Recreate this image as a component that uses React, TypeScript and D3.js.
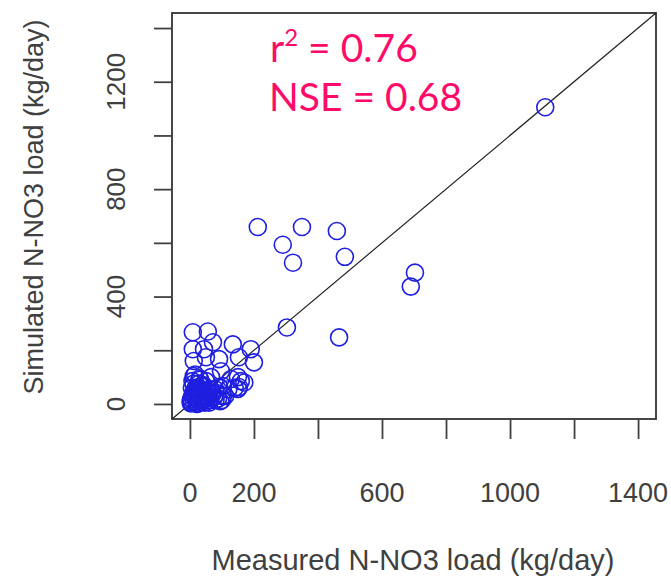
import React, { useRef, useEffect } from 'react';
import * as d3 from 'd3';

// measured (x) vs simulated (y) N-NO3 load, kg/day
const measured = [
  212, 350, 290, 322, 459, 484, 703, 690, 303, 466, 1110,
  9, 56, 9, 44, 72, 134, 190, 153, 200, 91, 12, 50, 97, 150, 153, 103, 66, 12, 34,
  128, 159, 150, 103, 91, 60, 40, 20, 30, 45, 10, 25, 5, 15, 35, 55, 70, 80, 18, 28,
  38, 48, 65, 85, 110, 120, 8, 22, 42, 2, 60, 75, 95, 32, 140, 170,
  4, 12, 18, 26, 33, 40, 47, 52, 58, 14, 24, 36, 44, 6, 30, 62, 68, 16, 50, 78,
  3, 7, 11, 21, 27, 39, 46, 57, 88, 100,
];
const simulated = [
  659, 659, 593, 526, 644, 548, 489, 437, 285, 248, 1105,
  267, 270, 204, 204, 230, 222, 204, 174, 155, 167, 160, 174, 122, 100, 63, 67, 100, 104, 67,
  93, 85, 56, 30, 63, 40, 20, 10, 30, 45, 40, 15, 5, 25, 55, 20, 35, 15, 60, 75,
  12, 30, 55, 40, 30, 55, 85, 0, 70, 10, 5, 25, 10, 90, 60, 80,
  18, 8, 50, 20, 45, 65, 38, 48, 28, 35, 60, 8, 22, 60, 95, 15, 42, 110, 85, 55,
  2, 28, 75, 40, 3, 18, 5, 12, 20, 15,
];

const xTicks = [0, 200, 400, 600, 800, 1000, 1200, 1400];
const xLabels = [0, 200, 600, 1000, 1400];
const yTicks = [0, 200, 400, 600, 800, 1000, 1200, 1400];
const yLabels = [0, 400, 800, 1200];

const width = 671;
const height = 577;
const box = { left: 172, right: 656, top: 13, bottom: 419 };
const axisFont = "'Liberation Sans', Arial, sans-serif";
const grey = '#404040';

const App = () => {
  const chartRef = useRef(null);

  useEffect(() => {
    const svg = d3.select(chartRef.current);
    svg.selectAll('*').remove();

    const xScale = d3.scaleLinear().domain([-56, 1456]).range([box.left, box.right]);
    const yScale = d3.scaleLinear().domain([-56, 1456]).range([box.bottom, box.top]);

    // frame
    svg
      .append('rect')
      .attr('x', box.left)
      .attr('y', box.top)
      .attr('width', box.right - box.left)
      .attr('height', box.bottom - box.top)
      .attr('fill', 'none')
      .attr('stroke', '#333')
      .attr('stroke-width', 1.8);

    // x axis
    const gx = svg.append('g').attr('transform', `translate(0, ${box.bottom})`);
    gx.call(
      d3
        .axisBottom(xScale)
        .tickValues(xTicks)
        .tickSize(20)
        .tickFormat(() => ''),
    );
    gx.select('.domain').remove();
    gx.selectAll('line').attr('stroke', grey).attr('stroke-width', 1.8);

    svg
      .append('g')
      .selectAll('text')
      .data(xLabels)
      .enter()
      .append('text')
      .attr('x', (d) => xScale(d))
      .attr('y', 502)
      .attr('text-anchor', 'middle')
      .attr('font-family', axisFont)
      .attr('font-size', 27)
      .attr('fill', grey)
      .text((d) => d);

    // y axis
    const gy = svg.append('g').attr('transform', `translate(${box.left}, 0)`);
    gy.call(
      d3
        .axisLeft(yScale)
        .tickValues(yTicks)
        .tickSize(18)
        .tickFormat(() => ''),
    );
    gy.select('.domain').remove();
    gy.selectAll('line').attr('stroke', grey).attr('stroke-width', 1.8);

    svg
      .append('g')
      .selectAll('text')
      .data(yLabels)
      .enter()
      .append('text')
      .attr('transform', (d) => `translate(125, ${yScale(d)}) rotate(-90)`)
      .attr('text-anchor', 'middle')
      .attr('font-family', axisFont)
      .attr('font-size', 26)
      .attr('fill', grey)
      .text((d) => d);

    // axis titles
    svg
      .append('text')
      .attr('x', 413)
      .attr('y', 570)
      .attr('text-anchor', 'middle')
      .attr('font-family', axisFont)
      .attr('font-size', 29)
      .attr('fill', grey)
      .text('Measured N-NO3 load (kg/day)');

    svg
      .append('text')
      .attr('transform', 'translate(43, 207) rotate(-90)')
      .attr('text-anchor', 'middle')
      .attr('font-family', axisFont)
      .attr('font-size', 27)
      .attr('fill', grey)
      .text('Simulated N-NO3 load (kg/day)');

    // 1:1 line
    svg
      .append('line')
      .attr('x1', xScale(-56))
      .attr('y1', yScale(-56))
      .attr('x2', xScale(1456))
      .attr('y2', yScale(1456))
      .attr('stroke', '#222')
      .attr('stroke-width', 1.2);

    // points
    svg
      .append('g')
      .selectAll('circle')
      .data(measured)
      .enter()
      .append('circle')
      .attr('cx', (d) => xScale(d))
      .attr('cy', (d, i) => yScale(simulated[i]))
      .attr('r', 8.5)
      .attr('fill', 'none')
      .attr('stroke', '#1f1fe0')
      .attr('stroke-width', 1.6);

    // stats
    const stats = svg
      .append('g')
      .attr('font-family', "Lato, 'Open Sans', sans-serif")
      .attr('fill', '#ff0a68');
    const r2 = stats.append('text').attr('x', 270).attr('y', 62).attr('font-size', 39);
    r2.append('tspan').text('r');
    r2.append('tspan').attr('dy', -16).attr('font-size', 24).text('2');
    r2.append('tspan').attr('dy', 16).text(' = 0.76');
    stats.append('text').attr('x', 269).attr('y', 111).attr('font-size', 39).text('NSE = 0.68');
  }, []);

  return (
    <svg
      ref={chartRef}
      width={width}
      height={height}
      style={{ position: 'absolute', left: 0, top: 0, background: '#fff' }}
    ></svg>
  );
};

export default App;
